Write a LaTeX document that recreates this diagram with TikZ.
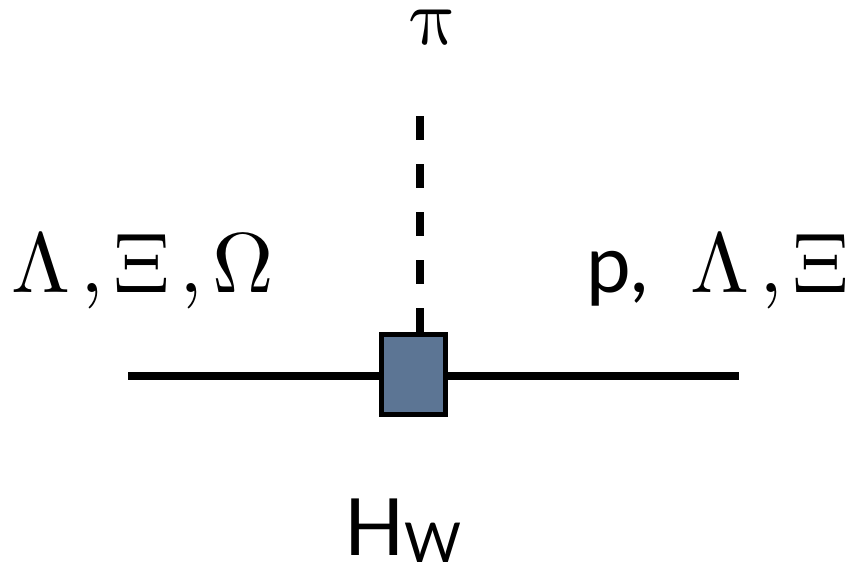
\documentclass[tikz,border=0pt]{standalone}
\usepackage{fontspec}
\usepackage{unicode-math}
\setmathfont{Latin Modern Math}
\setsansfont{Lato}
\definecolor{boxfill}{HTML}{5C7594}
\newcommand{\cm}{\mkern2mu{,}\mkern2mu}
\begin{document}
\begin{tikzpicture}[x=1pt,y=-1pt,
  lbl/.style={inner sep=0pt,outer sep=0pt},
  particle/.style={line width=8pt},
  dashline/.style={line width=8pt,dash pattern=on 24pt off 24pt},
  vertexbox/.style={draw=black,line width=5pt,fill=boxfill,minimum width=64pt,minimum height=80pt,inner sep=0pt,outer sep=0pt}]
\useasboundingbox (0,0) rectangle (852,565);
\node[vertexbox] (box) at (413.5,374.5) {};
\coordinate (lend) at (128,376);
\coordinate (rend) at (739,376);
\coordinate (dtop) at (420,116);
\coordinate (dbot) at (420,332);
\draw[particle] (lend) -- (box.west|-lend);
\draw[particle] (box.east|-rend) -- (rend);
\draw[dashline] (dtop) -- (dbot);
\node[lbl,anchor=base] (pi) at (434,44) {\fontsize{80}{84}\selectfont$\symup{\pi}$};
\node[lbl,anchor=base west] (left) at (12,292) {\fontsize{85}{90}\selectfont$\Lambda\cm\Xi\cm\Omega$};
\node[lbl,anchor=base west] (p) at (586,292) {\fontsize{80}{90}\selectfont\sffamily p,};
\node[lbl,anchor=base east] (right) at (849,292) {\fontsize{85}{90}\selectfont$\Lambda\cm\Xi$};
\node[lbl,anchor=base west] (hw) at (344,555) {\fontsize{79}{90}\selectfont\sffamily H\raisebox{-7pt}{\fontsize{55}{60}\selectfont W}};
\end{tikzpicture}
\end{document}
